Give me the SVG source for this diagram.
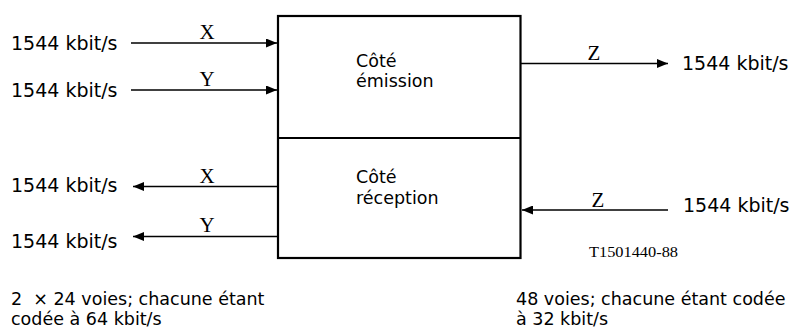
<svg xmlns="http://www.w3.org/2000/svg" width="795" height="331" viewBox="0 0 795 331">
<style>
.lbl{font-family:"DejaVu Sans","Liberation Sans",sans-serif;font-size:19px;fill:#000}
.box-t{font-family:"DejaVu Sans","Liberation Sans",sans-serif;font-size:17.5px;fill:#000}
.note{font-family:"DejaVu Sans","Liberation Sans",sans-serif;font-size:17.5px;fill:#000}
.sig{font-family:"Liberation Serif","DejaVu Serif",serif;font-size:21px;fill:#000;text-anchor:middle}
.ref{font-family:"Liberation Serif","DejaVu Serif",serif;font-size:14px;fill:#000}
.conn{stroke:#000;stroke-width:1.7;fill:none}
.frame{stroke:#000;stroke-width:2.2;fill:#fff}
</style>
<defs>
<marker id="ah" markerWidth="11" markerHeight="9" refX="11" refY="4.5" orient="auto" markerUnits="userSpaceOnUse">
<path d="M0,0 L11,4.5 L0,9 Z" fill="#000"/>
</marker>
</defs>
<rect width="795" height="331" fill="#fff"/>
<g id="codec">
<rect class="frame" x="278" y="16" width="242.5" height="242"/>
<line class="frame" x1="278" y1="138" x2="520.5" y2="138"/>
</g>
<g id="emission">
<text class="box-t" x="356" y="66.5">Côté</text>
<text class="box-t" x="356" y="86.5">émission</text>
</g>
<g id="reception">
<text class="box-t" x="356" y="182.5">Côté</text>
<text class="box-t" x="356" y="204">réception</text>
</g>
<g id="connectors">
<line class="conn" x1="131" y1="43" x2="277" y2="43" marker-end="url(#ah)"/>
<line class="conn" x1="131" y1="90" x2="277" y2="90" marker-end="url(#ah)"/>
<line class="conn" x1="521" y1="63.5" x2="668" y2="63.5" marker-end="url(#ah)"/>
<line class="conn" x1="277" y1="186.5" x2="133" y2="186.5" marker-end="url(#ah)"/>
<line class="conn" x1="277" y1="236.5" x2="133" y2="236.5" marker-end="url(#ah)"/>
<line class="conn" x1="668" y1="210" x2="522" y2="210" marker-end="url(#ah)"/>
<text class="sig" x="207" y="38.5">X</text>
<text class="sig" x="207" y="85.5">Y</text>
<text class="sig" x="594" y="59.5">Z</text>
<text class="sig" x="207" y="182.5">X</text>
<text class="sig" x="207" y="232">Y</text>
<text class="sig" x="598" y="206.5">Z</text>
</g>
<g id="ports">
<text class="lbl" x="11" y="49.5">1544 kbit/s</text>
<text class="lbl" x="11" y="96.5">1544 kbit/s</text>
<text class="lbl" x="682" y="70">1544 kbit/s</text>
<text class="lbl" x="11" y="192">1544 kbit/s</text>
<text class="lbl" x="11" y="248">1544 kbit/s</text>
<text class="lbl" x="683" y="211.5">1544 kbit/s</text>
</g>
<g id="notes">
<text class="ref" x="589" y="256.5" textLength="89" lengthAdjust="spacingAndGlyphs">T1501440-88</text>
<text class="note" x="11" y="305" xml:space="preserve">2  × 24 voies; chacune étant</text>
<text class="note" x="11" y="325">codée à 64 kbit/s</text>
<text class="note" x="516" y="305">48 voies; chacune étant codée</text>
<text class="note" x="516" y="325">à 32 kbit/s</text>
</g>
</svg>
